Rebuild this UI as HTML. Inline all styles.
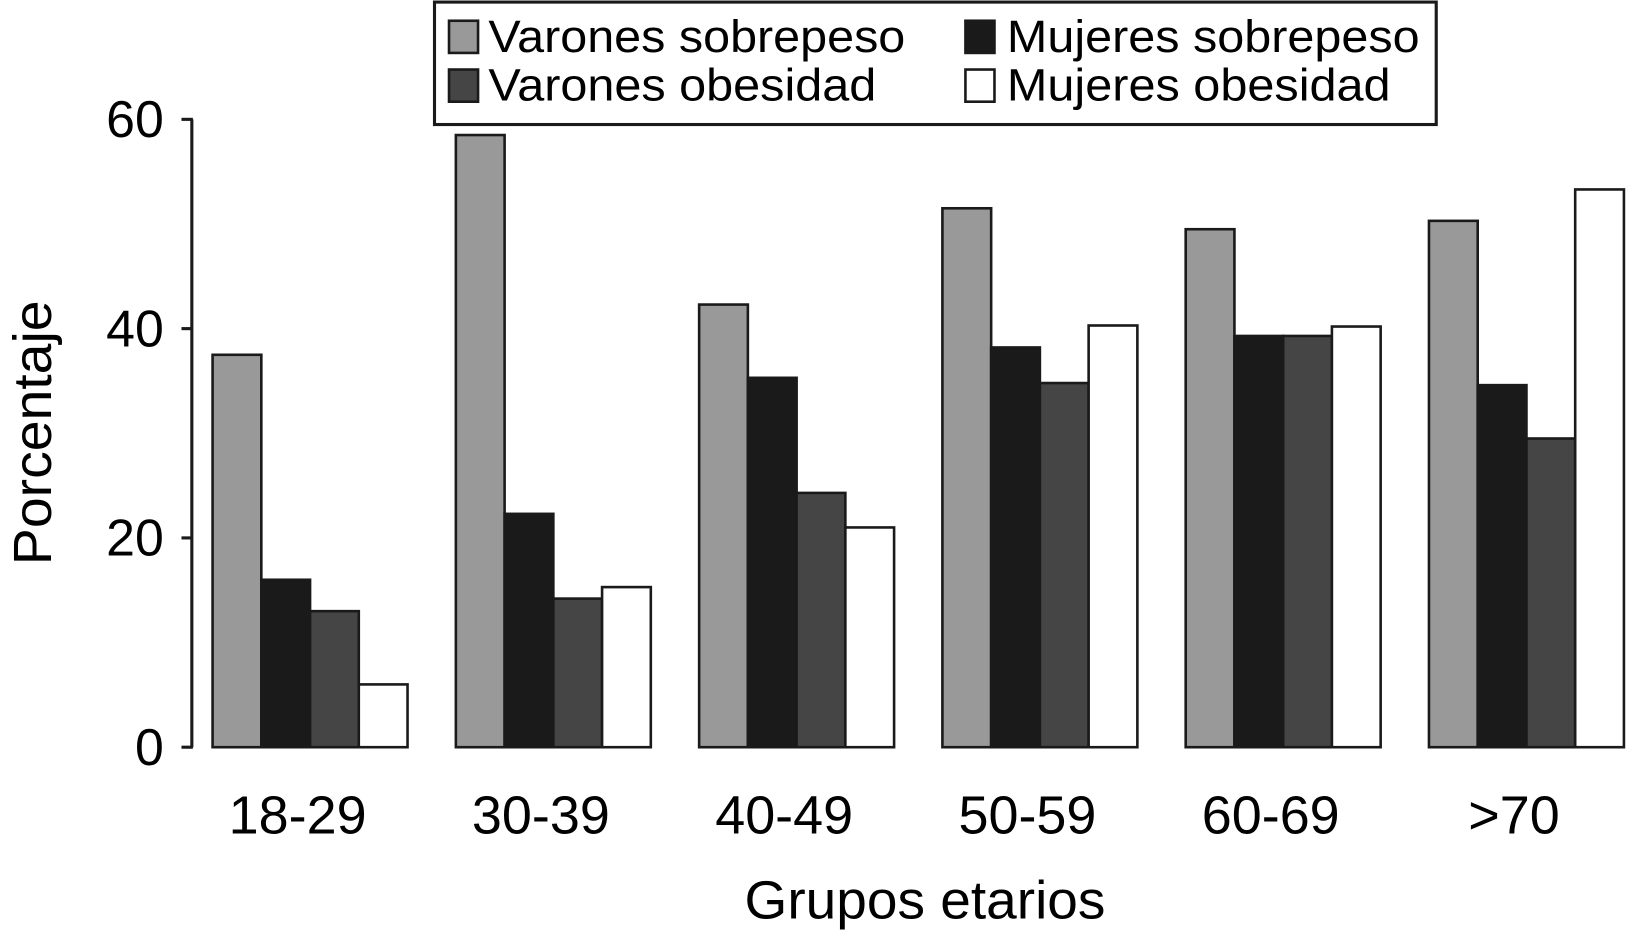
<!DOCTYPE html>
<html><head><meta charset="utf-8"><style>
html,body{margin:0;padding:0;background:#fff;width:1626px;height:934px;overflow:hidden}
svg{display:block;font-family:"Liberation Sans",Arial,sans-serif}
</style></head><body>
<svg id="chart" width="1626" height="934" viewBox="0 0 1568 900" preserveAspectRatio="none" xmlns="http://www.w3.org/2000/svg">
<g>
<rect x="419" y="2" width="966" height="118" fill="#fff" stroke="#1a1a1a" stroke-width="3"/>
<rect x="433" y="20" width="28" height="31" fill="#999" stroke="#1a1a1a" stroke-width="2.5"/>
<text x="471" y="50" font-size="44" textLength="402" lengthAdjust="spacingAndGlyphs">Varones sobrepeso</text>
<rect x="433" y="67" width="28" height="31" fill="#454545" stroke="#1a1a1a" stroke-width="2.5"/>
<text x="471" y="97" font-size="44" textLength="374" lengthAdjust="spacingAndGlyphs">Varones obesidad</text>
<rect x="931" y="20" width="28" height="31" fill="#1a1a1a" stroke="#1a1a1a" stroke-width="2.5"/>
<text x="971" y="50" font-size="44" textLength="398" lengthAdjust="spacingAndGlyphs">Mujeres sobrepeso</text>
<rect x="931" y="67" width="28" height="31" fill="#fff" stroke="#1a1a1a" stroke-width="2.5"/>
<text x="971" y="97" font-size="44" textLength="370" lengthAdjust="spacingAndGlyphs">Mujeres obesidad</text>
</g>
<g id="axis"></g>
<g id="bars"></g>
<text transform="translate(49,417) rotate(-90)" text-anchor="middle" font-size="52" textLength="255" lengthAdjust="spacingAndGlyphs">Porcentaje</text>
<text x="892" y="885" text-anchor="middle" font-size="52" textLength="348" lengthAdjust="spacingAndGlyphs">Grupos etarios</text>
</svg>
<script>
const categories = ["18-29","30-39","40-49","50-59","60-69",">70"];
const varonesSobrepeso = [37.5,58.5,42.3,51.5,49.5,50.3];
const mujeresSobrepeso = [16,22.3,35.3,38.2,39.3,34.6];
const varonesObesidad = [13,14.2,24.3,34.8,39.3,29.5];
const mujeresObesidad = [6,15.3,21,40.3,40.2,53.3];
const yTicks = [0,20,40,60];

const NS = "http://www.w3.org/2000/svg";
const y0 = 720, yTop = 115, yMax = 60;
function yScale(v){ return y0 - (v / yMax) * (y0 - yTop); }
function groupX(i){ return 205 + i * 234.6; }
const barW = 47;

const axis = document.getElementById('axis');
const line = document.createElementNS(NS,'line');


line.setAttribute('x1',185); line.setAttribute('x2',185);
line.setAttribute('y1',yScale(yMax)); line.setAttribute('y2',yScale(0));
line.setAttribute('stroke','#1a1a1a'); line.setAttribute('stroke-width','3');
axis.appendChild(line);
yTicks.forEach(t => {
  const tk = document.createElementNS(NS,'line');
  
  
  tk.setAttribute('x1',175); tk.setAttribute('x2',186);
  tk.setAttribute('y1',yScale(t)); tk.setAttribute('y2',yScale(t));
  tk.setAttribute('stroke','#1a1a1a'); tk.setAttribute('stroke-width','3');
  axis.appendChild(tk);
  const lb = document.createElementNS(NS,'text');
  
  
  lb.setAttribute('x',158); lb.setAttribute('y',yScale(t)+17);
  lb.setAttribute('text-anchor','end'); lb.setAttribute('font-size','50');
  lb.textContent = t;
  axis.appendChild(lb);
});

const series = [
  {vals: varonesSobrepeso, fill:'#999999', name:'varones-sobrepeso'},
  {vals: mujeresSobrepeso, fill:'#1a1a1a', name:'mujeres-sobrepeso'},
  {vals: varonesObesidad, fill:'#454545', name:'varones-obesidad'},
  {vals: mujeresObesidad, fill:'#ffffff', name:'mujeres-obesidad'}
];
const bars = document.getElementById('bars');
categories.forEach((c,i) => {
  series.forEach((s,j) => {
    const r = document.createElementNS(NS,'rect');
    
    
    const x = groupX(i) + j*barW;
    r.setAttribute('x', x); r.setAttribute('width', barW);
    r.setAttribute('y', yScale(s.vals[i]));
    r.setAttribute('height', yScale(0) - yScale(s.vals[i]));
    r.setAttribute('fill', s.fill);
    r.setAttribute('stroke', '#1a1a1a'); r.setAttribute('stroke-width', '2.5');
    bars.appendChild(r);
  });
  const lb = document.createElementNS(NS,'text');
  
  
  lb.setAttribute('x', groupX(i) + 2*barW - 12);
  lb.setAttribute('y', 803);
  lb.setAttribute('text-anchor','middle'); lb.setAttribute('font-size','52');
  lb.textContent = c;
  bars.appendChild(lb);
});
</script>
</body></html>
